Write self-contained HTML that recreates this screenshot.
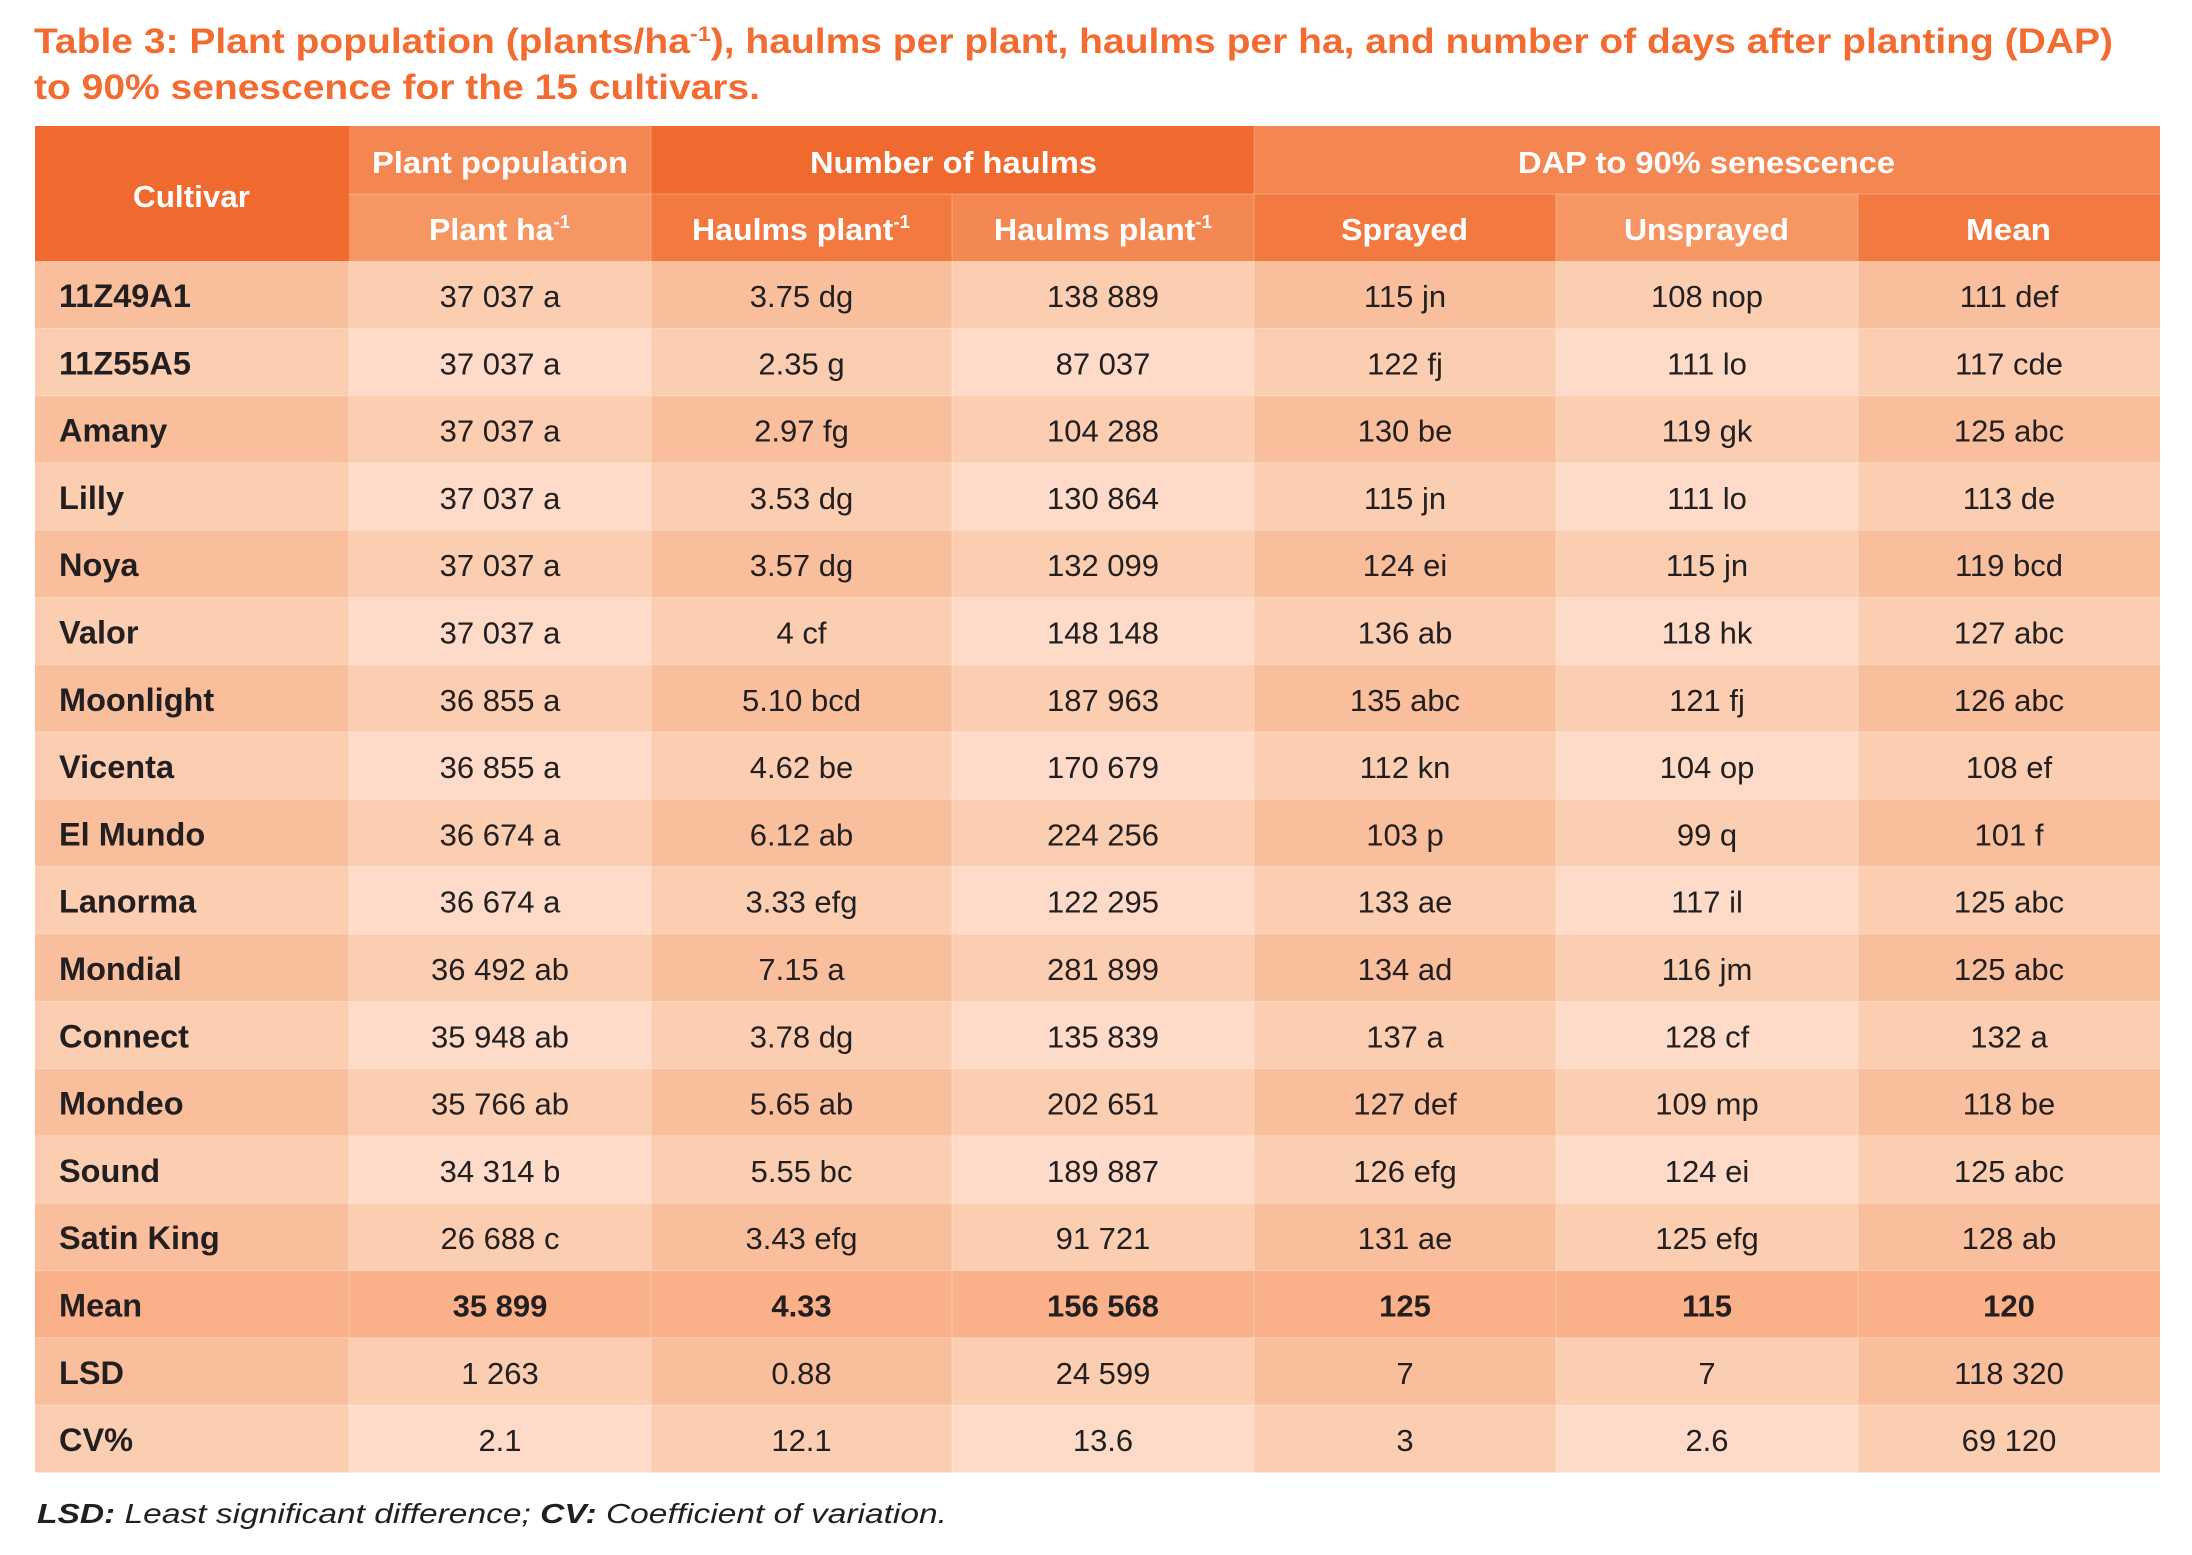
<!DOCTYPE html>
<html>
<head>
<meta charset="utf-8">
<style>
  html, body { margin:0; padding:0; background:#ffffff; }
  body { width:2192px; height:1555px; overflow:hidden; }
  svg { display:block; }
  .t { font-family:"Liberation Sans", sans-serif; font-weight:bold; fill:#F26B30; font-size:35px; }
  .h { font-family:"Liberation Sans", sans-serif; font-weight:bold; fill:#ffffff; font-size:31px; }
  .c { font-family:"Liberation Sans", sans-serif; font-weight:bold; fill:#231F20; font-size:32.5px; }
  .d { font-family:"Liberation Sans", sans-serif; fill:#231F20; font-size:31px; text-anchor:middle; }
  .db { font-family:"Liberation Sans", sans-serif; font-weight:bold; fill:#231F20; font-size:31px; text-anchor:middle; }
  .f { font-family:"Liberation Sans", sans-serif; font-style:italic; fill:#231F20; font-size:28px; }
</style>
</head>
<body>
<svg width="2192" height="1555" viewBox="0 0 2192 1555" xmlns="http://www.w3.org/2000/svg">
  <defs>
    <g id="ro">
      <rect x="35" y="0" width="2125" height="67.4" fill="#F9BF9C"/>
      <rect x="349" y="0" width="302" height="67.4" fill="#FBCDB1"/>
      <rect x="952" y="0" width="302" height="67.4" fill="#FBCDB1"/>
      <rect x="1556" y="0" width="302" height="67.4" fill="#FBCDB1"/>
    </g>
    <g id="re">
      <rect x="35" y="0" width="2125" height="67.4" fill="#FBCDB1"/>
      <rect x="349" y="0" width="302" height="67.4" fill="#FDDBC8"/>
      <rect x="952" y="0" width="302" height="67.4" fill="#FDDBC8"/>
      <rect x="1556" y="0" width="302" height="67.4" fill="#FDDBC8"/>
    </g>
  </defs>

  <!-- Title -->
  <text class="t" x="34" y="53" textLength="2079" lengthAdjust="spacingAndGlyphs">Table 3: Plant population (plants/ha<tspan font-size="21" dy="-12">-1</tspan><tspan dy="12">), haulms per plant, haulms per ha, and number of days after planting (DAP)</tspan></text>
  <text class="t" x="34" y="99" textLength="726" lengthAdjust="spacingAndGlyphs">to 90% senescence for the 15 cultivars.</text>

  <!-- Header backgrounds -->
  <rect x="35" y="126" width="314" height="135" fill="#F06A2F"/>
  <rect x="349" y="126" width="302" height="68" fill="#F48751"/>
  <rect x="651" y="126" width="603" height="68" fill="#F06A2F"/>
  <rect x="1254" y="126" width="906" height="68" fill="#F48751"/>
  <rect x="349" y="194" width="302" height="67" fill="#F69663"/>
  <rect x="651" y="194" width="301" height="67" fill="#F27A41"/>
  <rect x="952" y="194" width="302" height="67" fill="#F48852"/>
  <rect x="1254" y="194" width="302" height="67" fill="#F27A41"/>
  <rect x="1556" y="194" width="302" height="67" fill="#F69663"/>
  <rect x="1858" y="194" width="302" height="67" fill="#F27A41"/>

  <!-- Header text -->
  <text class="h" x="133" y="207" textLength="117" lengthAdjust="spacingAndGlyphs">Cultivar</text>
  <text class="h" x="372" y="173" textLength="256" lengthAdjust="spacingAndGlyphs">Plant population</text>
  <text class="h" x="810" y="173" textLength="287" lengthAdjust="spacingAndGlyphs">Number of haulms</text>
  <text class="h" x="1518" y="173" textLength="377" lengthAdjust="spacingAndGlyphs">DAP to 90% senescence</text>
  <text class="h" x="429" y="240" textLength="141" lengthAdjust="spacingAndGlyphs">Plant ha<tspan font-size="18" dy="-12">-1</tspan></text>
  <text class="h" x="692" y="240" textLength="218" lengthAdjust="spacingAndGlyphs">Haulms plant<tspan font-size="18" dy="-12">-1</tspan></text>
  <text class="h" x="994" y="240" textLength="218" lengthAdjust="spacingAndGlyphs">Haulms plant<tspan font-size="18" dy="-12">-1</tspan></text>
  <text class="h" x="1341" y="240" textLength="127" lengthAdjust="spacingAndGlyphs">Sprayed</text>
  <text class="h" x="1624" y="240" textLength="165" lengthAdjust="spacingAndGlyphs">Unsprayed</text>
  <text class="h" x="1966" y="240" textLength="85" lengthAdjust="spacingAndGlyphs">Mean</text>

  <!-- Data row backgrounds -->
  <use href="#ro" y="261"/>
  <use href="#re" y="328.3"/>
  <use href="#ro" y="395.6"/>
  <use href="#re" y="462.9"/>
  <use href="#ro" y="530.2"/>
  <use href="#re" y="597.5"/>
  <use href="#ro" y="664.8"/>
  <use href="#re" y="732.1"/>
  <use href="#ro" y="799.4"/>
  <use href="#re" y="866.7"/>
  <use href="#ro" y="934"/>
  <use href="#re" y="1001.3"/>
  <use href="#ro" y="1068.6"/>
  <use href="#re" y="1135.9"/>
  <use href="#ro" y="1203.2"/>
  <rect x="35" y="1270.5" width="2125" height="67.4" fill="#FAB189"/>
  <use href="#ro" y="1337.8"/>
  <use href="#re" y="1405.1"/>

  <!-- faint grid lines -->
  <g stroke="#ffffff" stroke-opacity="0.22" stroke-width="1.2">
    <line x1="349" y1="261" x2="349" y2="1472.4"/>
    <line x1="651" y1="126" x2="651" y2="1472.4"/>
    <line x1="952" y1="194" x2="952" y2="1472.4"/>
    <line x1="1254" y1="126" x2="1254" y2="1472.4"/>
    <line x1="1556" y1="194" x2="1556" y2="1472.4"/>
    <line x1="1858" y1="194" x2="1858" y2="1472.4"/>
    <line x1="349" y1="194" x2="2160" y2="194"/>
    <line x1="35" y1="328.3" x2="2160" y2="328.3"/>
    <line x1="35" y1="395.6" x2="2160" y2="395.6"/>
    <line x1="35" y1="462.9" x2="2160" y2="462.9"/>
    <line x1="35" y1="530.2" x2="2160" y2="530.2"/>
    <line x1="35" y1="597.5" x2="2160" y2="597.5"/>
    <line x1="35" y1="664.8" x2="2160" y2="664.8"/>
    <line x1="35" y1="732.1" x2="2160" y2="732.1"/>
    <line x1="35" y1="799.4" x2="2160" y2="799.4"/>
    <line x1="35" y1="866.7" x2="2160" y2="866.7"/>
    <line x1="35" y1="934" x2="2160" y2="934"/>
    <line x1="35" y1="1001.3" x2="2160" y2="1001.3"/>
    <line x1="35" y1="1068.6" x2="2160" y2="1068.6"/>
    <line x1="35" y1="1135.9" x2="2160" y2="1135.9"/>
    <line x1="35" y1="1203.2" x2="2160" y2="1203.2"/>
    <line x1="35" y1="1270.5" x2="2160" y2="1270.5"/>
    <line x1="35" y1="1337.8" x2="2160" y2="1337.8"/>
    <line x1="35" y1="1405.1" x2="2160" y2="1405.1"/>
  </g>

  <!-- Row 1 -->
  <text class="c" x="59" y="307">11Z49A1</text>
  <text class="d" x="500" y="307">37 037 a</text>
  <text class="d" x="801.5" y="307">3.75 dg</text>
  <text class="d" x="1103" y="307">138 889</text>
  <text class="d" x="1405" y="307">115 jn</text>
  <text class="d" x="1707" y="307">108 nop</text>
  <text class="d" x="2009" y="307">111 def</text>

  <text class="c" x="59" y="374.3">11Z55A5</text>
  <text class="d" x="500" y="374.3">37 037 a</text>
  <text class="d" x="801.5" y="374.3">2.35 g</text>
  <text class="d" x="1103" y="374.3">87 037</text>
  <text class="d" x="1405" y="374.3">122 fj</text>
  <text class="d" x="1707" y="374.3">111 lo</text>
  <text class="d" x="2009" y="374.3">117 cde</text>

  <text class="c" x="59" y="441.6">Amany</text>
  <text class="d" x="500" y="441.6">37 037 a</text>
  <text class="d" x="801.5" y="441.6">2.97 fg</text>
  <text class="d" x="1103" y="441.6">104 288</text>
  <text class="d" x="1405" y="441.6">130 be</text>
  <text class="d" x="1707" y="441.6">119 gk</text>
  <text class="d" x="2009" y="441.6">125 abc</text>

  <text class="c" x="59" y="508.9">Lilly</text>
  <text class="d" x="500" y="508.9">37 037 a</text>
  <text class="d" x="801.5" y="508.9">3.53 dg</text>
  <text class="d" x="1103" y="508.9">130 864</text>
  <text class="d" x="1405" y="508.9">115 jn</text>
  <text class="d" x="1707" y="508.9">111 lo</text>
  <text class="d" x="2009" y="508.9">113 de</text>

  <text class="c" x="59" y="576.2">Noya</text>
  <text class="d" x="500" y="576.2">37 037 a</text>
  <text class="d" x="801.5" y="576.2">3.57 dg</text>
  <text class="d" x="1103" y="576.2">132 099</text>
  <text class="d" x="1405" y="576.2">124 ei</text>
  <text class="d" x="1707" y="576.2">115 jn</text>
  <text class="d" x="2009" y="576.2">119 bcd</text>

  <text class="c" x="59" y="643.5">Valor</text>
  <text class="d" x="500" y="643.5">37 037 a</text>
  <text class="d" x="801.5" y="643.5">4 cf</text>
  <text class="d" x="1103" y="643.5">148 148</text>
  <text class="d" x="1405" y="643.5">136 ab</text>
  <text class="d" x="1707" y="643.5">118 hk</text>
  <text class="d" x="2009" y="643.5">127 abc</text>

  <text class="c" x="59" y="710.8">Moonlight</text>
  <text class="d" x="500" y="710.8">36 855 a</text>
  <text class="d" x="801.5" y="710.8">5.10 bcd</text>
  <text class="d" x="1103" y="710.8">187 963</text>
  <text class="d" x="1405" y="710.8">135 abc</text>
  <text class="d" x="1707" y="710.8">121 fj</text>
  <text class="d" x="2009" y="710.8">126 abc</text>

  <text class="c" x="59" y="778.1">Vicenta</text>
  <text class="d" x="500" y="778.1">36 855 a</text>
  <text class="d" x="801.5" y="778.1">4.62 be</text>
  <text class="d" x="1103" y="778.1">170 679</text>
  <text class="d" x="1405" y="778.1">112 kn</text>
  <text class="d" x="1707" y="778.1">104 op</text>
  <text class="d" x="2009" y="778.1">108 ef</text>

  <text class="c" x="59" y="845.4">El Mundo</text>
  <text class="d" x="500" y="845.4">36 674 a</text>
  <text class="d" x="801.5" y="845.4">6.12 ab</text>
  <text class="d" x="1103" y="845.4">224 256</text>
  <text class="d" x="1405" y="845.4">103 p</text>
  <text class="d" x="1707" y="845.4">99 q</text>
  <text class="d" x="2009" y="845.4">101 f</text>

  <text class="c" x="59" y="912.7">Lanorma</text>
  <text class="d" x="500" y="912.7">36 674 a</text>
  <text class="d" x="801.5" y="912.7">3.33 efg</text>
  <text class="d" x="1103" y="912.7">122 295</text>
  <text class="d" x="1405" y="912.7">133 ae</text>
  <text class="d" x="1707" y="912.7">117 il</text>
  <text class="d" x="2009" y="912.7">125 abc</text>

  <text class="c" x="59" y="980">Mondial</text>
  <text class="d" x="500" y="980">36 492 ab</text>
  <text class="d" x="801.5" y="980">7.15 a</text>
  <text class="d" x="1103" y="980">281 899</text>
  <text class="d" x="1405" y="980">134 ad</text>
  <text class="d" x="1707" y="980">116 jm</text>
  <text class="d" x="2009" y="980">125 abc</text>

  <text class="c" x="59" y="1047.3">Connect</text>
  <text class="d" x="500" y="1047.3">35 948 ab</text>
  <text class="d" x="801.5" y="1047.3">3.78 dg</text>
  <text class="d" x="1103" y="1047.3">135 839</text>
  <text class="d" x="1405" y="1047.3">137 a</text>
  <text class="d" x="1707" y="1047.3">128 cf</text>
  <text class="d" x="2009" y="1047.3">132 a</text>

  <text class="c" x="59" y="1114.6">Mondeo</text>
  <text class="d" x="500" y="1114.6">35 766 ab</text>
  <text class="d" x="801.5" y="1114.6">5.65 ab</text>
  <text class="d" x="1103" y="1114.6">202 651</text>
  <text class="d" x="1405" y="1114.6">127 def</text>
  <text class="d" x="1707" y="1114.6">109 mp</text>
  <text class="d" x="2009" y="1114.6">118 be</text>

  <text class="c" x="59" y="1181.9">Sound</text>
  <text class="d" x="500" y="1181.9">34 314 b</text>
  <text class="d" x="801.5" y="1181.9">5.55 bc</text>
  <text class="d" x="1103" y="1181.9">189 887</text>
  <text class="d" x="1405" y="1181.9">126 efg</text>
  <text class="d" x="1707" y="1181.9">124 ei</text>
  <text class="d" x="2009" y="1181.9">125 abc</text>

  <text class="c" x="59" y="1249.2">Satin King</text>
  <text class="d" x="500" y="1249.2">26 688 c</text>
  <text class="d" x="801.5" y="1249.2">3.43 efg</text>
  <text class="d" x="1103" y="1249.2">91 721</text>
  <text class="d" x="1405" y="1249.2">131 ae</text>
  <text class="d" x="1707" y="1249.2">125 efg</text>
  <text class="d" x="2009" y="1249.2">128 ab</text>

  <text class="c" x="59" y="1316.5">Mean</text>
  <text class="db" x="500" y="1316.5">35 899</text>
  <text class="db" x="801.5" y="1316.5">4.33</text>
  <text class="db" x="1103" y="1316.5">156 568</text>
  <text class="db" x="1405" y="1316.5">125</text>
  <text class="db" x="1707" y="1316.5">115</text>
  <text class="db" x="2009" y="1316.5">120</text>

  <text class="c" x="59" y="1383.8">LSD</text>
  <text class="d" x="500" y="1383.8">1 263</text>
  <text class="d" x="801.5" y="1383.8">0.88</text>
  <text class="d" x="1103" y="1383.8">24 599</text>
  <text class="d" x="1405" y="1383.8">7</text>
  <text class="d" x="1707" y="1383.8">7</text>
  <text class="d" x="2009" y="1383.8">118 320</text>

  <text class="c" x="59" y="1451.1">CV%</text>
  <text class="d" x="500" y="1451.1">2.1</text>
  <text class="d" x="801.5" y="1451.1">12.1</text>
  <text class="d" x="1103" y="1451.1">13.6</text>
  <text class="d" x="1405" y="1451.1">3</text>
  <text class="d" x="1707" y="1451.1">2.6</text>
  <text class="d" x="2009" y="1451.1">69 120</text>

  <!-- Footer -->
  <text class="f" x="37" y="1523" textLength="910" lengthAdjust="spacingAndGlyphs"><tspan font-weight="bold">LSD:</tspan> Least significant difference; <tspan font-weight="bold">CV:</tspan> Coefficient of variation.</text>
</svg>
</body>
</html>
